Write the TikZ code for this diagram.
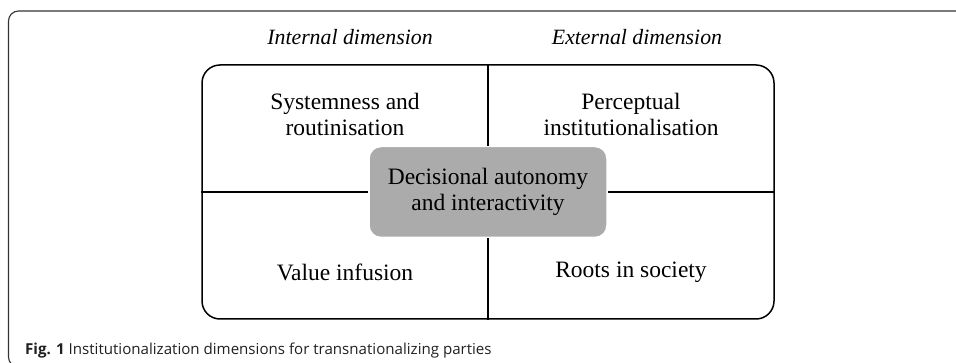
\documentclass[tikz,border=0pt]{standalone}
\usepackage{fontspec}
\setmainfont{Liberation Serif}
\newfontfamily\capfont{Open Sans}
\definecolor{coregray}{HTML}{ABABAB}
\definecolor{captext}{HTML}{231F20}
\tikzset{
  quadtext/.style={align=center, font=\fontsize{23.5}{26}\selectfont},
  dimtext/.style={font=\fontsize{21.8}{26}\selectfont\itshape, anchor=base},
}
\begin{document}
\begin{tikzpicture}[x=1pt, y=1pt]
        \useasboundingbox (0,0) rectangle (956,-363);
        \clip (0,0) rectangle (956,-363);

        %page frame
        \draw[color=black!80, line width=1.1pt, rounded corners=10pt] (8.5,-11) rectangle (975,-367);

        %labels
        \node[dimtext] (intdim) at (350,-45) {Internal dimension};
        \node[dimtext] (extdim) at (637,-45) {External dimension};

        %box and center
        \node[draw, line width=1.5pt, rounded corners=18pt, minimum width=572pt, minimum height=254pt] (frame) at (488,-192) {};
        \node[fill=coregray, draw=white, line width=1.5pt, rounded corners=12pt, minimum width=238pt, minimum height=91pt, quadtext] (core) at (488,-192) {Decisional autonomy\\and interactivity};

        %dividers
        \draw[line width=1.5pt] (frame.north) -- (core.north);
        \draw[line width=1.5pt] (core.south) -- (frame.south);
        \draw[line width=1.5pt] (frame.west) -- (core.west);
        \draw[line width=1.5pt] (core.east) -- (frame.east);

        %quadrants
        \node[quadtext] (system) at (345,-114) {Systemness and\\routinisation};
        \node[quadtext] (percept) at (631,-114) {Perceptual\\institutionalisation};
        \node[quadtext] (value) at (345,-272) {Value infusion};
        \node[quadtext] (roots) at (631,-272) {Roots in society};

        %caption
        \node[anchor=base west, inner sep=0pt, text=captext, font=\capfont\fontsize{15.1}{18}\selectfont] (caption) at (25,-355) {\textbf{Fig. 1} Institutionalization dimensions for transnationalizing parties};
\end{tikzpicture}
\end{document}
